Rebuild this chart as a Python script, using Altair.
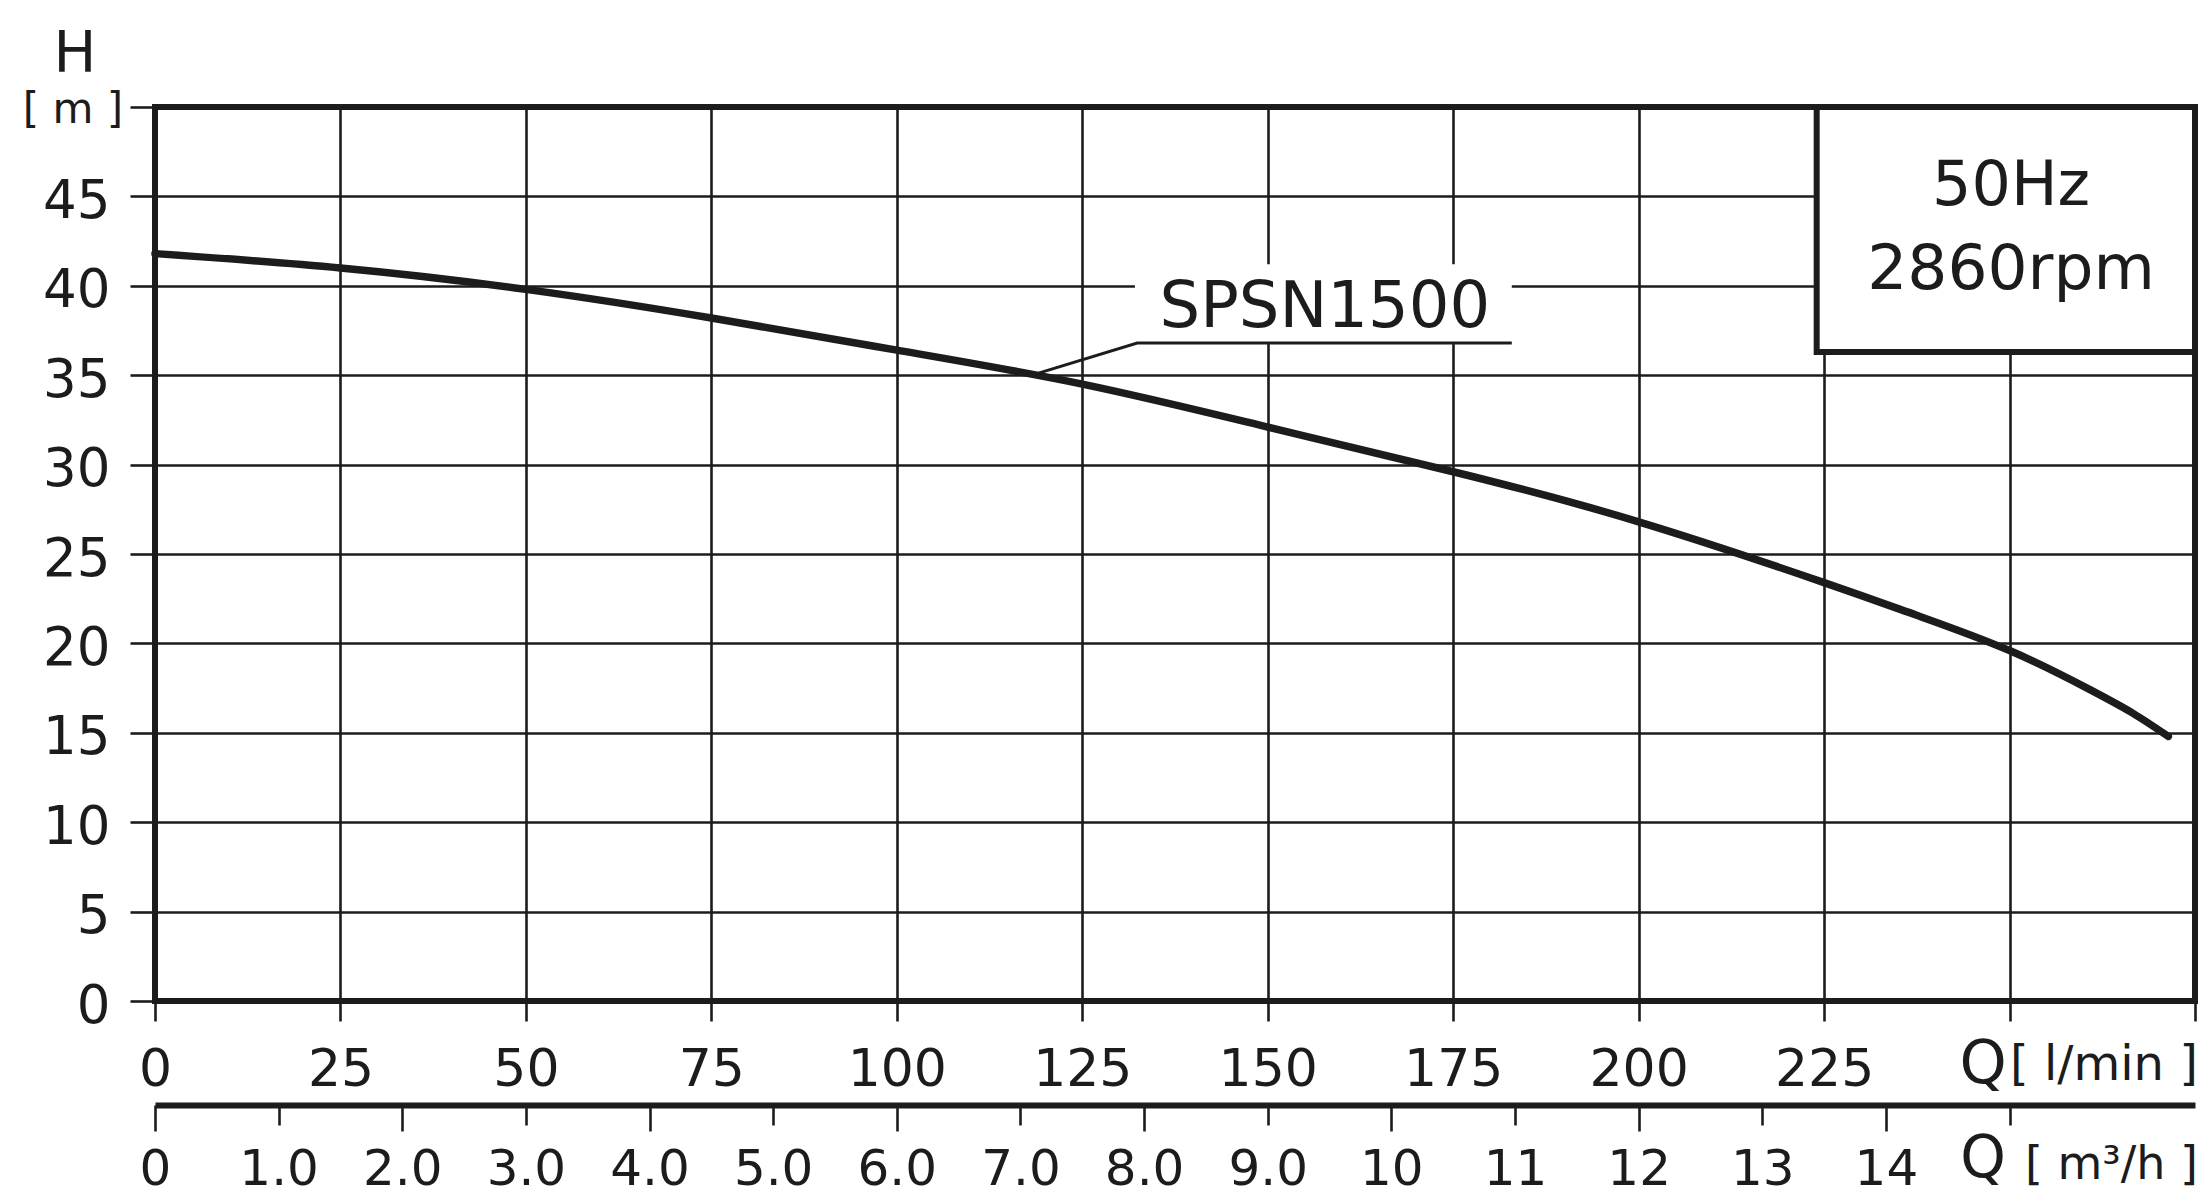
import json
import altair as alt
import pandas as pd

# ---------------- data ----------------
flow_lmin = [0, 25, 50, 75, 100, 125, 150, 175, 200, 225, 237.3, 250, 260.9, 266.6, 271.4]
head_m = [41.8, 41.0, 39.8, 38.2, 36.4, 34.5, 32.1, 29.6, 26.8, 23.4, 21.6, 19.6, 17.4, 16.1, 14.8]

flow_ticks = [0, 25, 50, 75, 100, 125, 150, 175, 200, 225, 250, 275]
flow_tick_labels = ["0", "25", "50", "75", "100", "125", "150", "175", "200", "225", "", ""]
head_ticks = [0, 5, 10, 15, 20, 25, 30, 35, 40, 45, 50]
head_tick_labels = ["0", "5", "10", "15", "20", "25", "30", "35", "40", "45", ""]
m3h_ticks = list(range(16))
m3h_tick_labels = ["0", "1.0", "2.0", "3.0", "4.0", "5.0", "6.0", "7.0", "8.0", "9.0",
                   "10", "11", "12", "13", "14", ""]

model_label = ["SPSN1500"]
info_lines = ["50Hz", "2860rpm"]
y_title = ["H"]
y_unit = ["[ m ]"]
x_title = ["Q"]
x_unit = ["[ l/min ]"]
x2_unit = ["[ m³/h ]"]

# ---------------- styling / layout ----------------
W, H = 2040, 894
INK = "#1c1c1c"
FONT = "DejaVu Sans"
GRID_W = 2.6


def label_expr(ticks, labels):
    return f"{json.dumps(labels)}[indexof({json.dumps(ticks)}, datum.value)]"


x_scale = alt.Scale(domain=[0, 275], nice=False, zero=False)
y_scale = alt.Scale(domain=[0, 50], nice=False, zero=False)

x_axis = alt.Axis(values=flow_ticks, labelExpr=label_expr(flow_ticks, flow_tick_labels),
                  title=None, grid=True, gridColor=INK, gridWidth=GRID_W, domain=False,
                  ticks=True, tickSize=20, tickWidth=GRID_W, tickColor=INK,
                  labelFont=FONT, labelFontSize=52, labelColor=INK, labelPadding=23,
                  labelFlush=False, labelOverlap=False)
y_axis = alt.Axis(values=head_ticks, labelExpr=label_expr(head_ticks, head_tick_labels),
                  title=None, grid=True, gridColor=INK, gridWidth=GRID_W, domain=False,
                  ticks=True, tickSize=25, tickWidth=GRID_W, tickColor=INK,
                  labelFont=FONT, labelFontSize=53, labelColor=INK, labelPadding=20,
                  labelOffset=5, labelFlush=False, labelOverlap=False)

curve_df = pd.DataFrame({"q": flow_lmin, "h": head_m})
curve = alt.Chart(curve_df).mark_line(color=INK, strokeWidth=7.5, interpolate="natural",
                                      strokeCap="round").encode(
    x=alt.X("q:Q", scale=x_scale, axis=x_axis),
    y=alt.Y("h:Q", scale=y_scale, axis=y_axis),
)

one = pd.DataFrame({"k": [0]})

# white background behind model label (interrupts grid)
label_bg = alt.Chart(one).mark_rect(fill="white", strokeWidth=0).encode(
    x=alt.datum(132.1), x2=alt.datum(182.9), y=alt.datum(36.8), y2=alt.datum(41.2)
)
leader_df = pd.DataFrame({"q": [119.0, 132.4, 182.9], "h": [35.1, 36.8, 36.8]})
leader = alt.Chart(leader_df).mark_line(color=INK, strokeWidth=3).encode(
    x="q:Q", y="h:Q"
)
model_text = alt.Chart(pd.DataFrame({"t": model_label})).mark_text(
    font=FONT, fontSize=64, color=INK, align="center", baseline="alphabetic"
).encode(x=alt.datum(157.7), y=alt.datum(37.7), text="t:N")

# info box top-right
box = alt.Chart(one).mark_rect(fill="white", stroke=INK, strokeWidth=6).encode(
    x=alt.datum(224), x2=alt.datum(275), y=alt.datum(50), y2=alt.datum(36.3)
)
info1 = alt.Chart(pd.DataFrame({"t": [info_lines[0]]})).mark_text(
    font=FONT, fontSize=62, color=INK, align="center", baseline="alphabetic"
).encode(x=alt.datum(250.2), y=alt.datum(44.5), text="t:N")
info2 = alt.Chart(pd.DataFrame({"t": [info_lines[1]]})).mark_text(
    font=FONT, fontSize=63, color=INK, align="center", baseline="alphabetic"
).encode(x=alt.datum(250.2), y=alt.datum(39.8), text="t:N")


def txt(t, px, py, size, align="center"):
    return alt.Chart(pd.DataFrame({"t": t})).mark_text(
        font=FONT, fontSize=size, color=INK, align=align, baseline="alphabetic"
    ).encode(x=alt.value(px), y=alt.value(py), text="t:N")


y_title_t = txt(y_title, -80, -35, 57)
y_unit_t = txt(y_unit, -82, 16, 42)
q_t = txt(x_title, 1828, 976, 60)
q_unit_t = txt(x_unit, 2043, 973, 48, align="right")
q2_t = txt(x_title, 1828, 1070, 58)
q2_unit_t = txt(x2_unit, 2043, 1072, 46, align="right")

inner = alt.layer(curve, label_bg, leader, model_text, box, info1, info2,
                  y_title_t, y_unit_t, q_t, q_unit_t, q2_t, q2_unit_t)

m3h_axis = alt.Axis(
    orient="bottom", offset=104, values=m3h_ticks,
    labelExpr=label_expr(m3h_ticks, m3h_tick_labels), title=None, grid=False,
    domain=True, domainColor=INK, domainWidth=6, ticks=True, tickColor=INK,
    tickWidth=GRID_W,
    tickSize={"condition": {"test": "datum.value % 2 === 0", "value": 26}, "value": 20},
    labelPadding={"condition": {"test": "datum.value % 2 === 0", "value": 13}, "value": 19},
    labelFont=FONT, labelFontSize=50, labelColor=INK, labelFlush=False, labelOverlap=False,
)
m3h_layer = alt.Chart(pd.DataFrame({"m3h": m3h_ticks})).mark_point(opacity=0).encode(
    x=alt.X("m3h:Q", scale=alt.Scale(domain=[0, 16.5], nice=False, zero=False), axis=m3h_axis),
    y=alt.value(0),
)

chart = alt.layer(inner, m3h_layer).resolve_scale(x="independent").properties(
    width=W, height=H,
    autosize=alt.AutoSizeParams(type="none"),
    padding={"left": 147, "top": 99, "right": 4, "bottom": 194},
    background="white",
).configure_view(stroke=INK, strokeWidth=6)

chart.save("out.html", embed_options={"renderer": "svg", "actions": False})
